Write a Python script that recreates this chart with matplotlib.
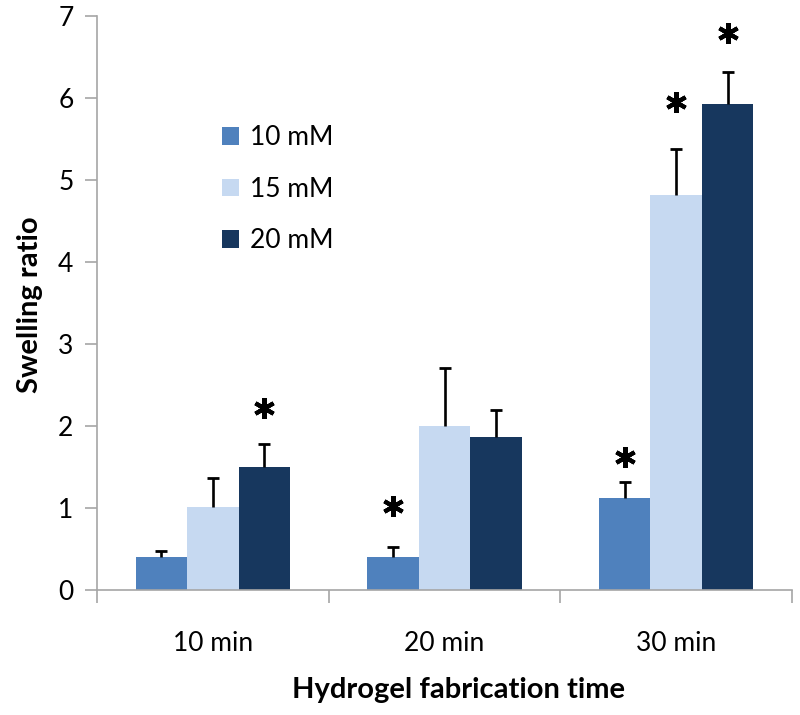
import matplotlib
matplotlib.use("Agg")
import matplotlib.pyplot as plt
import numpy as np

plt.rcParams['font.family'] = ['Lato', 'DejaVu Sans']

categories = ["10 min", "20 min", "30 min"]
series = ["10 mM", "15 mM", "20 mM"]
means = {
    "10 mM": [0.40, 0.41, 1.12],
    "15 mM": [1.02, 2.00, 4.82],
    "20 mM": [1.50, 1.87, 5.93],
}
errors = {
    "10 mM": [0.08, 0.12, 0.20],
    "15 mM": [0.35, 0.71, 0.56],
    "20 mM": [0.28, 0.33, 0.39],
}
# significance markers: (category index, series, y position)
stars = [(0, "20 mM", 2.22), (1, "10 mM", 1.03), (2, "10 mM", 1.62),
         (2, "15 mM", 5.95), (2, "20 mM", 6.79)]
yticks = [0, 1, 2, 3, 4, 5, 6, 7]

colors = {"10 mM": "#4F81BD", "15 mM": "#C6D9F1", "20 mM": "#17375E"}

fig = plt.figure(figsize=(8, 7.15), dpi=100)
ax = fig.add_axes([97/800, 1-590.3/715, (792-97)/800, (590.3-16)/715])

x = np.arange(len(categories)) + 0.5
bw = 2/9
offsets = {"10 mM": -bw, "15 mM": 0.0, "20 mM": bw}
for s in series:
    xs = x + offsets[s]
    m = np.array(means[s])
    e = np.array(errors[s])
    ax.bar(xs, m, width=bw, color=colors[s], label=s, zorder=2)
    ax.errorbar(xs, m, yerr=[np.zeros(3), e], fmt='none', ecolor='black',
                elinewidth=1.9, capsize=0, zorder=3)
    ax.plot(xs, m + e, linestyle='none', marker='_', markersize=8,
            markeredgewidth=2.0, color='black', zorder=3)

for ci, s, yv in stars:
    ax.plot([x[ci] + offsets[s]], [yv], marker=(6, 2, 0), markersize=15,
            markeredgewidth=3.0, color='black', linestyle='none', zorder=3)

ax.set_xlim(0, 3)
ax.set_ylim(0, 7)
ax.set_yticks(yticks)
ax.set_yticklabels([str(v) for v in yticks])
ax.set_xticks([0, 1, 2, 3])
ax.set_xticklabels([])
ax.set_xticks(x, minor=True)
ax.set_xticklabels(categories, minor=True)
ax.tick_params(axis='x', which='minor', length=0, pad=29, labelsize=19)
ax.tick_params(axis='x', which='major', length=9, width=1.2, color='#A6A6A6', direction='out')
ax.tick_params(axis='y', length=9, width=1.2, color='#A6A6A6', direction='out', pad=8, labelsize=19)

for side in ['top', 'right']:
    ax.spines[side].set_visible(False)
for side in ['left', 'bottom']:
    ax.spines[side].set_color('#A6A6A6')
    ax.spines[side].set_linewidth(1.2)

fig.text(30/800, 1-305/715, "Swelling ratio", fontsize=21, fontweight='bold',
         ha='center', va='center', rotation=90)
fig.text(458/800, 1-690/715, "Hydrogel fabrication time", fontsize=21,
         fontweight='bold', ha='center', va='center')

leg = ax.legend(loc='upper left', bbox_to_anchor=(222/800, 1-125/715),
                bbox_transform=fig.transFigure, frameon=False, fontsize=19,
                handlelength=0.65, handleheight=0.65, handletextpad=0.4,
                labelspacing=1.01, borderpad=0, borderaxespad=0)

fig.savefig("out.png", dpi=100)
